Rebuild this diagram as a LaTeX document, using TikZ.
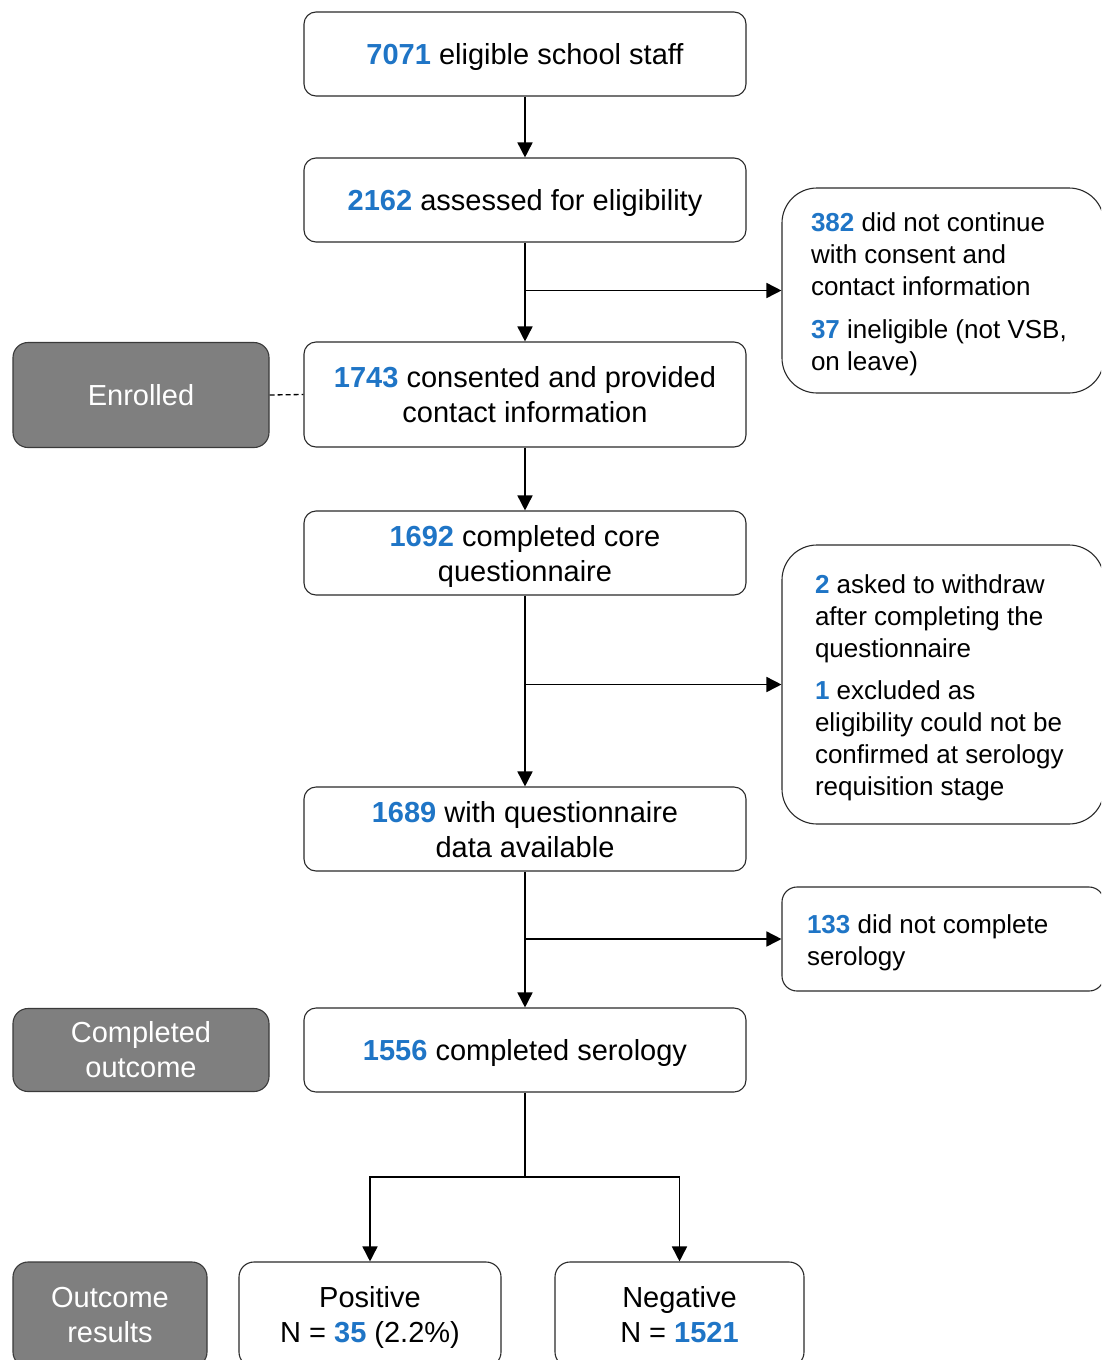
\documentclass[tikz,border=0pt]{standalone}
\usepackage{fontspec}
\setmainfont{Liberation Sans}
\usetikzlibrary{arrows.meta}
\definecolor{nblue}{HTML}{1F75C6}
\definecolor{gfill}{HTML}{7F7F7F}
\definecolor{gline}{HTML}{3A3A3A}
\definecolor{bline}{HTML}{2A2A2A}
\newcommand\nb[1]{\textbf{\color{nblue}#1}}
\newcommand\ctext[1]{\raisebox{-3.5pt}[\height][\depth]{\begin{tabular}{@{}c@{}}#1\end{tabular}}}
\newcommand\ltext[2]{\raisebox{-3.5pt}[\height][\depth]{\parbox{#1}{\raggedright #2}}}
\begin{document}
\begin{tikzpicture}[x=1pt,y=-1pt,
  mainbox/.style={draw=bline,line width=1.1pt,rounded corners=12pt,fill=white,
    minimum width=442pt,minimum height=84pt,
    font=\fontsize{29}{35}\selectfont},
  greybox/.style={draw=gline,line width=1.1pt,rounded corners=15pt,fill=gfill,
    text=white,minimum width=256pt,align=center,
    font=\fontsize{29}{35}\selectfont},
  resbox/.style={draw=bline,line width=1.1pt,rounded corners=15pt,fill=white,
    minimum height=105pt,font=\fontsize{29}{35}\selectfont},
  sidebox/.style={draw=bline,line width=1.1pt,fill=white,inner xsep=0pt,
    font=\fontsize{26}{32}\selectfont},
  arr/.style={line width=1.6pt,-{Triangle[width=15pt,length=15pt]}},
  conn/.style={line width=1.6pt}
]
\useasboundingbox (0,0) rectangle (1101,1360);
\clip (0,0) rectangle (1101,1360);
\fill[white] (0,0) rectangle (1101,1360);

% main column
\node[mainbox] (b1) at (525,54) {\ctext{\nb{7071} eligible school staff}};
\node[mainbox] (b2) at (525,200) {\ctext{\nb{2162} assessed for eligibility}};
\node[mainbox,minimum height=105pt] (b3) at (525,394.5) {\ctext{\nb{1743} consented and provided\\contact information}};
\node[mainbox] (b4) at (525,553) {\ctext{\nb{1692} completed core\\questionnaire}};
\node[mainbox] (b5) at (525,829) {\ctext{\nb{1689} with questionnaire\\data available}};
\node[mainbox] (b6) at (525,1050) {\ctext{\nb{1556} completed serology}};

% results
\node[resbox,minimum width=262pt] (pos) at (370,1314.5) {\ctext{Positive\\N = \nb{35} (2.2\%)}};
\node[resbox,minimum width=249pt] (neg) at (679.5,1314.5) {\ctext{Negative\\N = \nb{1521}}};

% grey labels
\node[greybox,minimum height=105pt] (enr) at (141,395) {Enrolled};
\node[greybox,minimum height=83pt] (comp) at (141,1050) {Completed\\outcome};
\node[greybox,minimum width=194pt,minimum height=105pt] (outr) at (110,1314.5) {Outcome\\results};

% side boxes
\node[sidebox,rounded corners=35pt,minimum height=205pt,minimum width=322pt] (sA) at (943,290.5)
  {\hspace*{29pt}\ltext{264pt}{\nb{382} did not continue\\with consent and\\contact information\\[11pt]\nb{37} ineligible (not VSB,\\on leave)}\hspace*{29pt}};
\node[sidebox,rounded corners=35pt,minimum height=279pt,minimum width=322pt] (sB) at (943,684.5)
  {\hspace*{33pt}\ltext{256pt}{\nb{2} asked to withdraw\\after completing the\\questionnaire\\[10pt]\nb{1} excluded as\\eligibility could not be\\confirmed at serology\\requisition stage}\hspace*{33pt}};
\node[sidebox,rounded corners=15pt,minimum height=104pt,minimum width=322pt] (sC) at (943,939)
  {\hspace*{25pt}\ltext{272pt}{\nb{133} did not complete\\serology}\hspace*{25pt}};

% connectors
\draw[arr] (b1.south) -- (b2.north);
\draw[arr] (b2.south) -- (b3.north);
\draw[arr] (b2.south |- sA.west) -- (sA.west);
\draw[arr] (b3.south) -- (b4.north);
\draw[arr] (b4.south) -- (b5.north);
\draw[arr] (b4.south |- sB.west) -- (sB.west);
\draw[arr] (b5.south) -- (b6.north);
\draw[arr] (b5.south |- sC.west) -- (sC.west);
\coordinate (split) at (525,1177);
\draw[conn] (b6.south) -- (split);
\draw[arr] (split) -| (pos.north);
\draw[arr] (split) -| (neg.north);
\draw[line width=1.3pt,dash pattern=on 5pt off 3pt] (enr.east) -- (b3.west);
\end{tikzpicture}
\end{document}
